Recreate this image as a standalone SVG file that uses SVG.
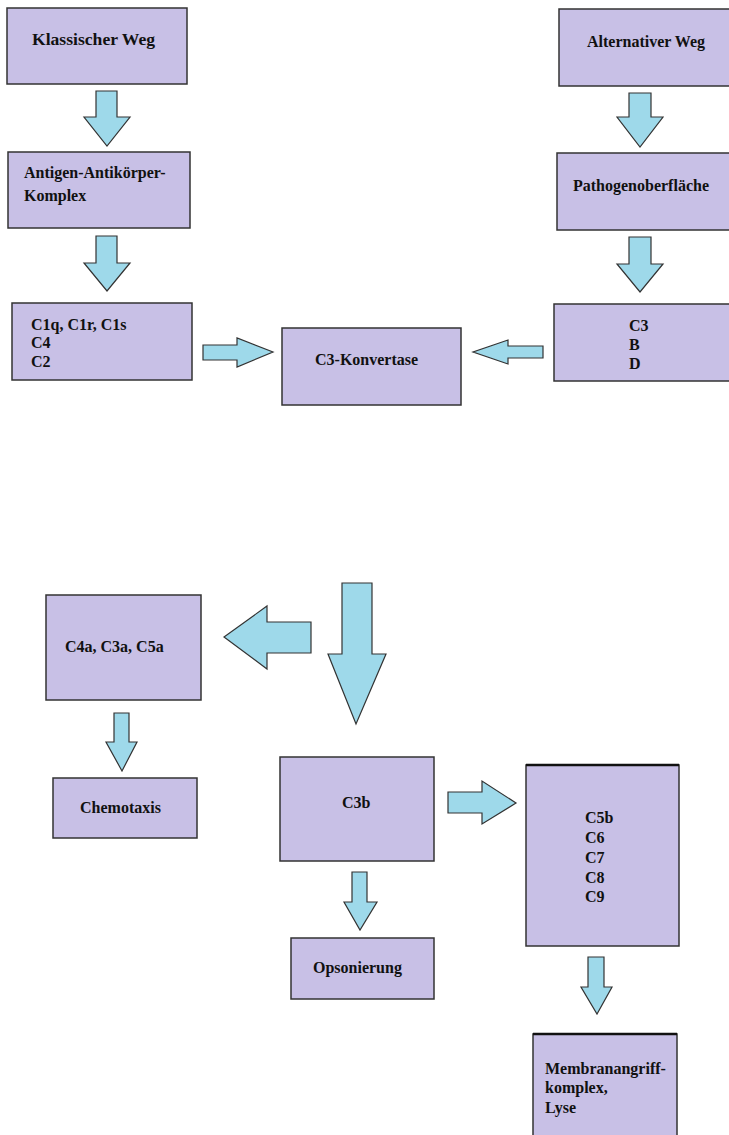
<svg xmlns="http://www.w3.org/2000/svg" width="729" height="1135" viewBox="0 0 729 1135">
<style>
.box{fill:#c8c0e6;stroke:#333;stroke-width:1.5}
.arr{fill:#9ed9ea;stroke:#333;stroke-width:1.2;stroke-linejoin:miter}
text{font-family:"Liberation Serif","Times New Roman",serif;font-size:16px;font-weight:bold;fill:#111}
</style>
<rect width="729" height="1135" fill="#fff"/>
<g id="n-klassisch"><rect class="box" x="7" y="8" width="180" height="76"/><text x="32" y="45" textLength="123" lengthAdjust="spacingAndGlyphs">Klassischer Weg</text></g>
<g id="n-antigen"><rect class="box" x="8" y="152" width="182" height="76"/><text x="24" y="178">Antigen-Antikörper-</text><text x="24" y="201">Komplex</text></g>
<g id="n-c1"><rect class="box" x="12" y="303" width="180" height="77"/><text x="31" y="330">C1q, C1r, C1s</text><text x="31" y="348">C4</text><text x="31" y="367">C2</text></g>
<g id="n-konvertase"><rect class="box" x="282" y="328" width="179" height="77"/><text x="315" y="365">C3-Konvertase</text></g>
<g id="n-alternativ"><rect class="box" x="559" y="9" width="172" height="77"/><text x="587" y="47">Alternativer Weg</text></g>
<g id="n-pathogen"><rect class="box" x="557" y="153" width="174" height="77"/><text x="573" y="191">Pathogenoberfläche</text></g>
<g id="n-c3bd"><rect class="box" x="554" y="304" width="177" height="77"/><text x="629" y="331">C3</text><text x="629" y="350">B</text><text x="629" y="369">D</text></g>
<g id="n-c4a"><rect class="box" x="46" y="595" width="155" height="105"/><text x="65" y="652">C4a, C3a, C5a</text></g>
<g id="n-chemotaxis"><rect class="box" x="53" y="778" width="144" height="60"/><text x="80" y="813">Chemotaxis</text></g>
<g id="n-c3b"><rect class="box" x="280" y="757" width="154" height="104"/><text x="342" y="808">C3b</text></g>
<g id="n-opsonierung"><rect class="box" x="291" y="938" width="143" height="61"/><text x="313" y="973">Opsonierung</text></g>
<g id="n-c5b"><rect class="box" x="526" y="765" width="153" height="181"/><line x1="526" y1="765" x2="679" y2="765" stroke="#111" stroke-width="2.5"/><text x="585" y="823">C5b</text><text x="585" y="843">C6</text><text x="585" y="863">C7</text><text x="585" y="883">C8</text><text x="585" y="902">C9</text></g>
<g id="n-mak"><rect class="box" x="533" y="1034" width="144" height="110"/><line x1="533" y1="1034" x2="677" y2="1034" stroke="#111" stroke-width="2.5"/><text x="545" y="1074">Membranangriff-</text><text x="545" y="1093">komplex,</text><text x="545" y="1113">Lyse</text></g>
<g id="connectors">
<polygon class="arr" points="96,91 117,91 117,117 130,117 107,146 84,117 96,117"/>
<polygon class="arr" points="96,236 117,236 117,263 130,263 107,291 84,263 96,263"/>
<polygon class="arr" points="629,93 651,93 651,117 663,117 640,147 617,117 629,117"/>
<polygon class="arr" points="629,237 651,237 651,264 663,264 640,292 617,264 629,264"/>
<polygon class="arr" points="203,345 237,345 237,338 273,352 237,367 237,360 203,360"/>
<polygon class="arr" points="543,346 508,346 508,340 473,352 508,364 508,358 543,358"/>
<polygon class="arr" points="311,622 267,622 267,606 224,637 267,669 267,653 311,653"/>
<polygon class="arr" points="342,583 372,583 372,654 386,654 356,724 328,654 342,654"/>
<polygon class="arr" points="114,713 129,713 129,742 137,742 122,771 106,742 114,742"/>
<polygon class="arr" points="352,872 367,872 367,902 377,902 360,930 344,902 352,902"/>
<polygon class="arr" points="448,792 482,792 482,781 516,803 482,824 482,813 448,813"/>
<polygon class="arr" points="588,957 604,957 604,987 612,987 597,1014 581,987 588,987"/>
</g>
</svg>
